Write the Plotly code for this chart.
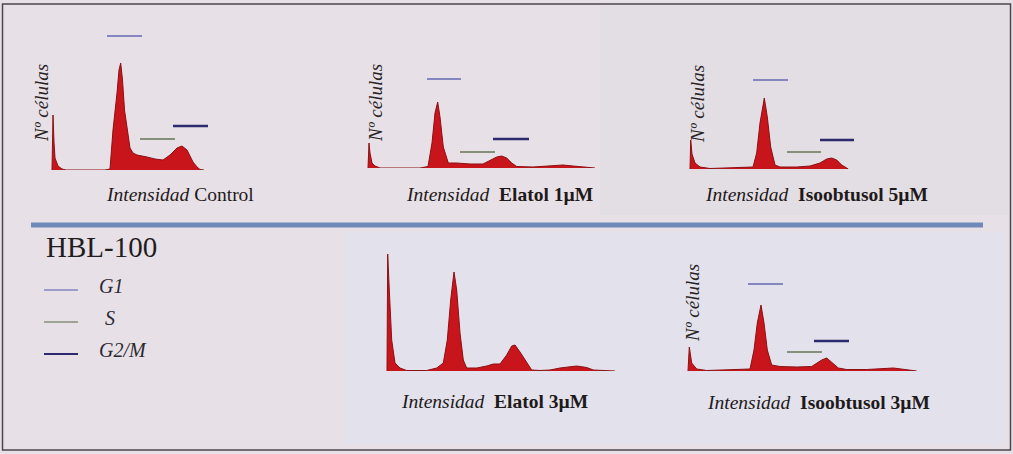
import plotly.graph_objects as go

W, H = 1013, 454

# ---------------- data (channel, cell count) ----------------
ctrl_ch = [2, 2.5, 3, 4, 5, 8, 12, 16, 55, 60, 63, 67, 69, 70.7, 72.5, 74.5, 77, 80, 83, 87, 97, 105, 113, 120, 127, 132, 137, 140, 143, 147, 150, 154]
ctrl_n = [0, 40, 55, 28, 12, 4, 1, 0, 0, 1, 40, 77, 100, 107, 90, 60, 40, 22, 17, 15, 13, 11, 10, 15, 22, 24, 20, 14, 8, 3, 0.5, 0]

el1_ch = [3, 3.7, 4, 5, 7, 10, 15, 55, 63, 67, 70, 72.7, 75, 78.3, 83.3, 91.7, 105, 118, 125, 131.7, 136.7, 141.7, 146.7, 151.7, 168, 188, 198, 208, 221.7, 230]
el1_n = [0, 15, 25, 15, 5, 2, 0, 0, 1.5, 25, 55, 66, 51, 21, 5, 5, 4, 4, 8, 11, 12, 10, 5, 1.5, 1, 2, 3, 2, 0.5, 0]

iso5_ch = [2, 2.7, 4, 7, 12, 22, 65, 68.7, 72, 76.3, 79.3, 82.7, 87, 92, 108.7, 122, 132, 138.7, 143.7, 148.7, 153.7, 158.7, 160.3]
iso5_n = [0, 29, 15, 6, 2, 0.5, 2, 16, 46, 71, 52, 22, 4, 2, 2, 3, 6, 10, 11, 9, 4, 1, 0]

el3_ch = [2, 2.7, 4.3, 6.7, 10, 15, 21.7, 41.7, 51.7, 58.3, 62.3, 65.7, 69, 71.7, 75, 78.3, 81.7, 91.7, 101.7, 108.3, 115, 121.7, 126.7, 130, 135, 141.7, 146.7, 155, 165, 175, 191.7, 201.7, 208.3, 230]
el3_n = [0, 117, 81, 31, 8, 3, 0.5, 0.5, 3, 8, 31, 71, 99, 81, 38, 11, 3, 3, 5, 7, 7, 16, 25, 26, 19, 8, 1, 0.5, 1, 3, 5, 3.5, 1, 0]

iso3_ch = [2, 3.3, 5.7, 10.7, 20.7, 64, 68, 71.3, 75, 78, 81.3, 85.7, 94, 110.7, 125.7, 130.7, 135.7, 140.7, 145.7, 152.3, 160.7, 180.7, 207.3, 220.7, 230.7]
iso3_n = [0, 24, 8, 2, 0.5, 2, 21, 48, 66, 48, 21, 6, 4.5, 4, 4.5, 8, 11, 13, 9, 3, 1.5, 1.5, 3, 1.5, 0]

# phase gates: [start channel, end channel, marker height]
ctrl_gates = {"G1": [57, 92, 134], "S": [90, 125, 31], "G2/M": [123, 158, 44]}
el1_gates = {"G1": [62, 96, 89], "S": [95, 130, 16], "G2/M": [128, 164, 29]}
iso5_gates = {"G1": [65, 100, 89], "S": [99, 133, 17], "G2/M": [132, 166, 29]}
iso3_gates = {"G1": [62, 97, 87], "S": [101, 136, 19], "G2/M": [128, 163, 30]}

titles = ["<i>Intensidad</i> Control",
          "<i>Intensidad</i>  <b>Elatol 1µM</b>",
          "<i>Intensidad</i>  <b>Isoobtusol 5µM</b>",
          "<i>Intensidad</i>  <b>Elatol 3µM</b>",
          "<i>Intensidad</i>  <b>Isoobtusol 3µM</b>"]

legend_title = "HBL-100"
phases = ["G1", "S", "G2/M"]

# ---------------- layout helpers ----------------
def px(x):
    return x / W

def py(y):
    return 1 - y / H

phase_color = {"G1": "#8585c0", "S": "#84907a", "G2/M": "#2c2a6c"}
phase_width = {"G1": 2, "S": 2, "G2/M": 2.5}
FILL = "#c8151c"
EDGE = "#8c1012"
SERIF = "Liberation Serif"

# panel geometry: left px, width px, baseline px, height px
panels = [
    dict(ch=ctrl_ch, n=ctrl_n, gates=ctrl_gates, left=50, w=210, base=170, h=140,
         ylab=(41, 103), title=(180, 194)),
    dict(ch=el1_ch, n=el1_n, gates=el1_gates, left=365, w=240, base=168, h=140,
         ylab=(375, 103), title=(499, 194)),
    dict(ch=iso5_ch, n=iso5_n, gates=iso5_gates, left=688, w=240, base=169, h=140,
         ylab=(697, 104), title=(816, 194)),
    dict(ch=el3_ch, n=el3_n, gates=None, left=385, w=240, base=371, h=140,
         ylab=None, title=(494, 401)),
    dict(ch=iso3_ch, n=iso3_n, gates=iso3_gates, left=686, w=240, base=371, h=140,
         ylab=(692, 303), title=(818, 402)),
]

fig = go.Figure()
annotations = []
shapes = []

# background regions
shapes.append(dict(type="rect", xref="paper", yref="paper", layer="below",
                   x0=px(345), x1=px(1005), y0=py(445), y1=py(232),
                   fillcolor="#e2e1ec", line=dict(width=0)))
shapes.append(dict(type="rect", xref="paper", yref="paper", layer="below",
                   x0=px(600), x1=px(1008), y0=py(215), y1=py(6),
                   fillcolor="#e3dde4", line=dict(width=0)))

for i, p in enumerate(panels):
    k = "" if i == 0 else str(i + 1)
    xa, ya = "x" + k, "y" + k
    fig.add_trace(go.Scatter(x=p["ch"], y=p["n"], mode="lines", fill="tozeroy",
                             fillcolor=FILL, line=dict(color=EDGE, width=1),
                             xaxis=xa, yaxis=ya, showlegend=False, hoverinfo="skip"))
    if p["gates"]:
        for ph in phases:
            x0, x1, lvl = p["gates"][ph]
            fig.add_trace(go.Scatter(x=[x0, x1], y=[lvl, lvl], mode="lines",
                                     line=dict(color=phase_color[ph], width=phase_width[ph]),
                                     xaxis=xa, yaxis=ya, showlegend=False, hoverinfo="skip"))
    axx = dict(domain=[px(p["left"]), px(p["left"] + p["w"])], range=[0, p["w"]],
               visible=False, anchor=ya, fixedrange=True)
    axy = dict(domain=[py(p["base"]), py(p["base"] - p["h"])], range=[0, p["h"]],
               visible=False, anchor=xa, fixedrange=True)
    fig.layout["xaxis" + k] = axx
    fig.layout["yaxis" + k] = axy
    if p["ylab"]:
        annotations.append(dict(xref="paper", yref="paper", x=px(p["ylab"][0]), y=py(p["ylab"][1]),
                                text="<i>Nº células</i>", textangle=-90, showarrow=False,
                                xanchor="center", yanchor="middle",
                                font=dict(family=SERIF, size=19, color="#2a2424")))
    annotations.append(dict(xref="paper", yref="paper", x=px(p["title"][0]), y=py(p["title"][1]),
                            text=titles[i], showarrow=False, xanchor="center", yanchor="middle",
                            font=dict(family=SERIF, size=19.5, color="#1e1a1a")))

# legend block
annotations.append(dict(xref="paper", yref="paper", x=px(44), y=py(247), text=legend_title,
                        showarrow=False, xanchor="left", yanchor="middle",
                        font=dict(family=SERIF, size=29, color="#1e1e22")))
leg_y = {"G1": 290, "S": 322, "G2/M": 354}
leg_tx = {"G1": 97, "S": 103, "G2/M": 97}
for ph in phases:
    shapes.append(dict(type="line", xref="paper", yref="paper",
                       x0=px(44), x1=px(78), y0=py(leg_y[ph]), y1=py(leg_y[ph]),
                       line=dict(color=phase_color[ph], width=phase_width[ph] - 0.5)))
    annotations.append(dict(xref="paper", yref="paper", x=px(leg_tx[ph]), y=py(leg_y[ph] - 4),
                            text="<i>" + ph + "</i>", showarrow=False, xanchor="left",
                            yanchor="middle", font=dict(family=SERIF, size=20, color="#2a2a30")))

# separator and frame
shapes.append(dict(type="line", xref="paper", yref="paper", x0=px(31), x1=px(983),
                   y0=py(225), y1=py(225), line=dict(color="#6f89b9", width=5)))
shapes.append(dict(type="rect", xref="paper", yref="paper", x0=px(2.5), x1=px(1010.5),
                   y0=py(450), y1=py(4), line=dict(color="#4a464c", width=1.5)))

fig.update_layout(width=W, height=H, margin=dict(l=0, r=0, t=0, b=0),
                  paper_bgcolor="#e8e0e7", plot_bgcolor="rgba(0,0,0,0)",
                  annotations=annotations, shapes=shapes, showlegend=False)

fig.write_html("out.html", config={"displayModeBar": False},
               post_script="document.body.style.margin='0';")
